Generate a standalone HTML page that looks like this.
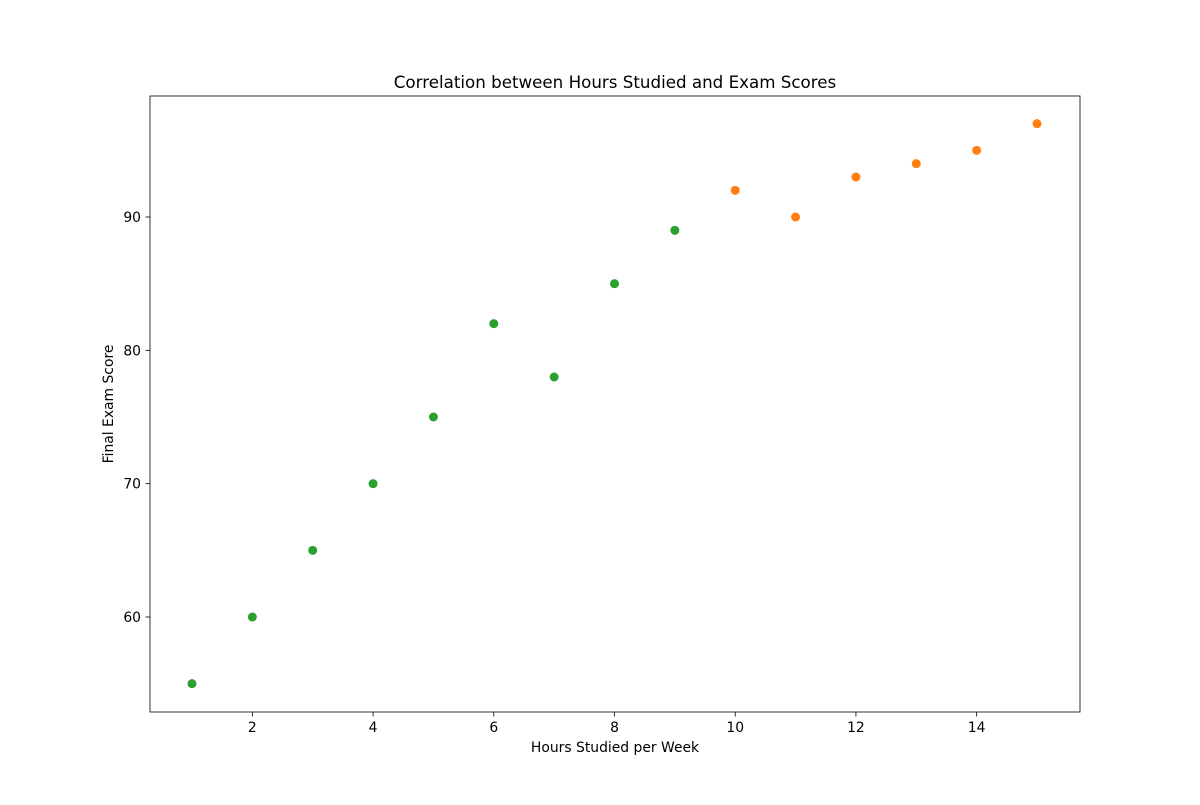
<!DOCTYPE html>
<html><head><meta charset="utf-8"><style>
body{margin:0;background:#fff;}
text{font-family:"DejaVu Sans","Liberation Sans",sans-serif;fill:#000;}
</style></head><body>
<svg id="chart" width="1200" height="800" xmlns="http://www.w3.org/2000/svg">
<rect width="1200" height="800" fill="#fff"/>
<text x="615" y="88" font-size="16.7" text-anchor="middle">Correlation between Hours Studied and Exam Scores</text>
<g id="plot"></g>
<rect x="150" y="96" width="930" height="616" fill="none" stroke="#000" stroke-width="0.8"/>
<text x="615" y="752" font-size="13.9" text-anchor="middle">Hours Studied per Week</text>
<text transform="translate(113,404) rotate(-90)" font-size="13.9" text-anchor="middle">Final Exam Score</text>
</svg>
<script>
const hours=[1,2,3,4,5,6,7,8,9,10,11,12,13,14,15];
const scores=[55,60,65,70,75,82,78,85,89,92,90,93,94,95,97];
const xTicks=[2,4,6,8,10,12,14];
const yTicks=[60,70,80,90];
const threshold=10;
const ns="http://www.w3.org/2000/svg";
const xs=v=>192+(v-1)*(845/14);
const ys=v=>617-(v-60)*(400/30);
const g=document.getElementById('plot');
function mk(t,a){const e=document.createElementNS(ns,t);for(const k in a)e.setAttribute(k,a[k]);return e;}
xTicks.forEach(t=>{
 const l=mk('line',{x1:xs(t),x2:xs(t),y1:712,y2:716.5,stroke:'#000','stroke-width':0.8});
 
 
 g.appendChild(l);
 const tx=mk('text',{x:xs(t),y:732,'font-size':13.9,'text-anchor':'middle'});tx.textContent=t;
 
 
 g.appendChild(tx);
});
yTicks.forEach(t=>{
 const l=mk('line',{x1:145.5,x2:150,y1:ys(t),y2:ys(t),stroke:'#000','stroke-width':0.8});
 
 
 g.appendChild(l);
 const tx=mk('text',{x:141,y:ys(t)+5,'font-size':13.9,'text-anchor':'end'});tx.textContent=t;
 
 
 g.appendChild(tx);
});
hours.forEach((h,i)=>{
 const c=mk('circle',{cx:xs(h),cy:ys(scores[i]),r:4.5,fill:h>=threshold?'#ff7f0e':'#2ca02c'});
 
 
 g.appendChild(c);
});
</script>
</body></html>
